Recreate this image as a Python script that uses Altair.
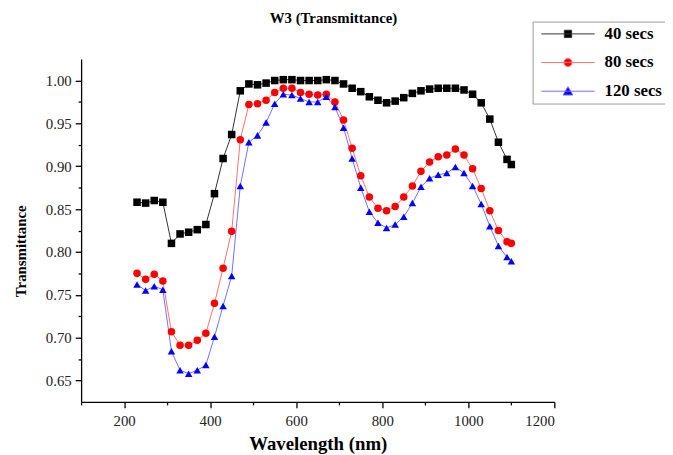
import altair as alt
import pandas as pd

wavelength = [230, 250, 270, 290, 310, 330, 350, 370, 390, 410, 430, 450, 470, 490, 510,
              530, 550, 570, 590, 610, 630, 650, 670, 690, 710, 730, 750, 770, 790, 810,
              830, 850, 870, 890, 910, 930, 950, 970, 990, 1010, 1030, 1050, 1070, 1090, 1100]

t40 = [0.858, 0.857, 0.860, 0.858, 0.810, 0.821, 0.823, 0.826, 0.832, 0.868, 0.909, 0.937,
       0.988, 0.996, 0.995, 0.997, 1.000, 1.001, 1.001, 1.000, 1.000, 1.000, 1.001, 1.000,
       0.996, 0.991, 0.987, 0.981, 0.977, 0.974, 0.976, 0.980, 0.985, 0.988, 0.990, 0.991,
       0.991, 0.991, 0.989, 0.984, 0.974, 0.955, 0.928, 0.908, 0.902]

t80 = [0.775, 0.768, 0.774, 0.766, 0.707, 0.691, 0.691, 0.697, 0.705, 0.740, 0.781, 0.824,
       0.931, 0.972, 0.973, 0.977, 0.986, 0.991, 0.991, 0.986, 0.984, 0.983, 0.984, 0.975,
       0.954, 0.921, 0.889, 0.864, 0.851, 0.848, 0.853, 0.864, 0.877, 0.894, 0.905, 0.911,
       0.913, 0.920, 0.913, 0.897, 0.874, 0.848, 0.825, 0.812, 0.810]

t120 = [0.762, 0.755, 0.760, 0.756, 0.684, 0.662, 0.658, 0.662, 0.668, 0.701, 0.737, 0.772,
        0.877, 0.928, 0.936, 0.951, 0.973, 0.984, 0.983, 0.979, 0.975, 0.975, 0.981, 0.969,
        0.945, 0.909, 0.875, 0.847, 0.834, 0.828, 0.832, 0.841, 0.857, 0.876, 0.886, 0.890,
        0.892, 0.899, 0.892, 0.877, 0.856, 0.830, 0.807, 0.794, 0.789]

series_names = ["40 secs", "80 secs", "120 secs"]
marker_colors = ["#000000", "#ff0000", "#0000ff"]
line_colors = ["#333333", "#ff7070", "#7070ff"]
shapes = ["square", "circle", "triangle-up"]

x_ticks = list(range(100, 1201, 100))
y_ticks = [round(0.65 + 0.025 * i, 3) for i in range(15)]

# legend symbols: a short line with the series marker on it (unit path coordinates)
legend_line = "M-7.3,0H7.3"
legend_markers = [
    "M-1,-1H1V1H-1Z",
    "M-1.1,0A1.1,1.1,0,1,0,1.1,0A1.1,1.1,0,1,0,-1.1,0Z",
    "M0,-1.25L1.35,1.05H-1.35Z",
]
legend_paths = [legend_line + m for m in legend_markers]

rows = []
for name, vals in zip(series_names, [t40, t80, t120]):
    for w, v in zip(wavelength, vals):
        rows.append({"wl": w, "T": v, "series": name})
df = pd.DataFrame(rows)

FONT = "Liberation Serif"

x_enc = alt.X(
    "wl:Q",
    scale=alt.Scale(domain=[100, 1200], nice=False, zero=False),
    axis=alt.Axis(
        title="Wavelength (nm)",
        values=x_ticks,
        format="d",
        labelExpr="datum.value % 200 == 0 ? datum.label : ''",
        tickSize={"condition": {"test": "datum.value % 200 == 0", "value": 6}, "value": 3},
        grid=False,
        titleFontSize=19,
        titlePadding=6,
        labelPadding=6,
    ),
)
y_enc = alt.Y(
    "T:Q",
    scale=alt.Scale(domain=[0.625, 1.025], nice=False, zero=False),
    axis=alt.Axis(
        title="Transmittance",
        values=y_ticks,
        labelExpr="round(datum.value * 1000) % 50 == 0 ? format(datum.value, '.2f') : ''",
        tickSize={"condition": {"test": "round(datum.value * 1000) % 50 == 0", "value": 6}, "value": 3},
        grid=False,
        titleFontSize=15,
        titlePadding=17,
        titleY=194,
        labelPadding=4,
    ),
)

lines = alt.Chart(df).mark_line(strokeWidth=1).encode(
    x=x_enc,
    y=y_enc,
    color=alt.Color(
        "series:N",
        sort=series_names,
        scale=alt.Scale(domain=series_names, range=line_colors),
        legend=None,
    ),
    detail="series:N",
)

points = alt.Chart(df).mark_point(filled=True, size=58, opacity=1).encode(
    x=x_enc,
    y=y_enc,
    color=alt.Color(
        "series:N",
        sort=series_names,
        scale=alt.Scale(domain=series_names, range=marker_colors),
        legend=None,
    ),
    shape=alt.Shape(
        "series:N",
        sort=series_names,
        scale=alt.Scale(domain=series_names, range=shapes),
        legend=None,
    ),
)

legend_def = alt.Legend(
    orient="none",
    legendX=457,
    legendY=-38,
    title=None,
    symbolSize=55,
    symbolStrokeWidth=1,
    symbolOpacity=1,
    symbolOffset=23.3,
    labelOffset=28.5,
    labelFont=FONT,
    labelFontSize=17,
    labelFontWeight="bold",
    labelColor="black",
    padding=4,
    rowPadding=11,
    fillColor="white",
    strokeColor="#999999",
)

# invisible layer that only carries the legend (line + marker symbols)
legend_layer = alt.Chart(df).mark_point(filled=True, size=55, opacity=0).encode(
    x=x_enc,
    y=y_enc,
    fill=alt.Fill("series:N", sort=series_names,
                  scale=alt.Scale(domain=series_names, range=marker_colors), legend=legend_def),
    stroke=alt.Stroke("series:N", sort=series_names,
                      scale=alt.Scale(domain=series_names, range=line_colors), legend=legend_def),
    shape=alt.Shape("series:N", sort=series_names,
                    scale=alt.Scale(domain=series_names, range=legend_paths), legend=legend_def),
)

chart = (
    alt.layer(lines, points, legend_layer)
    .resolve_scale(color="independent", shape="independent")
    .resolve_legend(fill="independent", stroke="independent", shape="independent")
    .properties(
        width=479,
        height=347,
        autosize=alt.AutoSizeParams(type="none"),
        padding={"left": 74, "top": 49, "right": 112, "bottom": 51},
        title=alt.TitleParams(
            "W3 (Transmittance)",
            font=FONT,
            fontSize=15,
            fontWeight="bold",
            color="black",
            frame="group",
            anchor="middle",
            dx=16,
            dy=5,
            offset=0,
        ),
    )
    .configure_view(stroke=None)
    .configure_axis(
        domainColor="black",
        domainWidth=1.3,
        tickColor="black",
        tickWidth=1.3,
        labelFont=FONT,
        labelFontSize=15,
        labelColor="#222222",
        titleFont=FONT,
        titleFontWeight="bold",
        titleColor="black",
    )
)

chart.save("out.html", embed_options={"renderer": "svg", "actions": False})
